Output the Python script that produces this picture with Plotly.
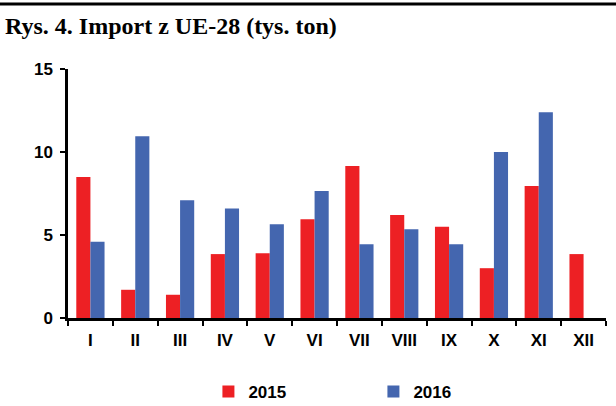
import plotly.graph_objects as go

months = ["I", "II", "III", "IV", "V", "VI", "VII", "VIII", "IX", "X", "XI", "XII"]
v2015 = [8.5, 1.7, 1.4, 3.85, 3.9, 5.95, 9.15, 6.2, 5.5, 3.0, 7.95, 3.85]
v2016 = [4.6, 10.95, 7.1, 6.6, 5.65, 7.65, 4.45, 5.35, 4.45, 10.0, 12.4, None]
yticks = [0, 5, 10, 15]

RED = "#ED2024"
BLUE = "#4466AF"

fig = go.Figure()
fig.add_trace(go.Bar(x=months, y=v2015, name="2015", marker=dict(color=RED, line=dict(width=0))))
fig.add_trace(go.Bar(x=months, y=v2016, name="2016", marker=dict(color=BLUE, line=dict(width=0))))

tickfont = dict(family="Liberation Sans, Arial", size=17, color="black", weight="bold")

fig.update_layout(
    width=616, height=406,
    margin=dict(l=68, r=10, t=69, b=88, autoexpand=False),
    paper_bgcolor="white", plot_bgcolor="white",
    barmode="group", bargap=0.37, bargroupgap=0,
    title=dict(text="Rys. 4. Import z UE-28 (tys. ton)", x=0, xref="container", xanchor="left",
               y=1 - 26 / 406, yanchor="middle", pad=dict(l=5),
               font=dict(family="Liberation Serif, Times New Roman", size=24, color="black", weight="bold")),
    showlegend=True,
    legend=dict(orientation="h", x=0.261, xanchor="left", yref="container", y=1 - 392 / 406, yanchor="middle",
                entrywidth=120, entrywidthmode="pixels", traceorder="normal",
                font=dict(family="Liberation Sans, Arial", size=17, color="black", weight="bold"),
                bgcolor="rgba(0,0,0,0)"),
    shapes=[dict(type="line", xref="paper", yref="paper", x0=-68 / 538, x1=1 + 10 / 538,
                 y0=(318 - 4) / 249, y1=(318 - 4) / 249, line=dict(color="black", width=3))],
)

fig.update_xaxes(type="category", showline=True, linecolor="black", linewidth=2.5, automargin=False,
                 ticks="outside", tickson="boundaries", ticklen=5, tickwidth=2, tickcolor="black",
                 tickfont=tickfont, showgrid=False, zeroline=False, ticklabelstandoff=5)
fig.update_yaxes(range=[0, 15], tickvals=yticks, showline=True, linecolor="black", linewidth=2.5, automargin=False,
                 ticks="outside", ticklen=5, tickwidth=2, tickcolor="black",
                 tickfont=tickfont, showgrid=False, zeroline=False, ticklabelstandoff=4)

fig.write_html("out.html", config={"displayModeBar": False},
               post_script="document.body.style.margin='0';")
